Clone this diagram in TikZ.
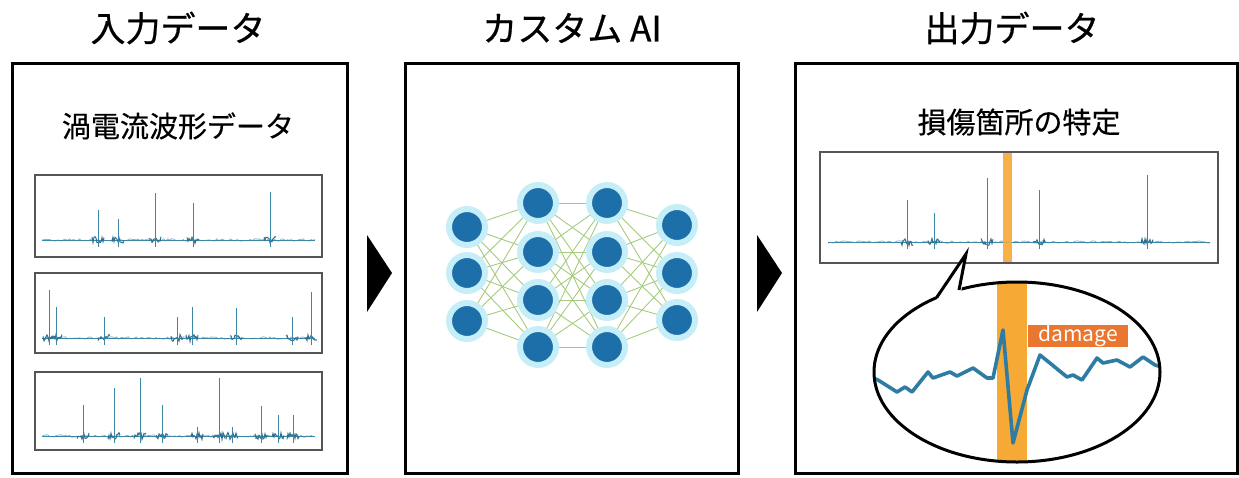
\documentclass[tikz,border=0pt]{standalone}
\usepackage{fontspec}
\setmainfont{Noto Sans CJK JP}
\newfontfamily\ttlfont[FakeBold=0.6]{Noto Sans CJK JP}
\newfontfamily\subfont[FakeBold=0.3]{Noto Sans CJK JP}
\usetikzlibrary{backgrounds,calc}
\definecolor{wavec}{HTML}{3C86A8}
\definecolor{wavel}{HTML}{86B8CC}
\definecolor{waved}{HTML}{2F6F8E}
\definecolor{wavebig}{HTML}{2E7CA4}
\definecolor{nnfill}{HTML}{1C6FA8}
\definecolor{nnglow}{HTML}{C6EEF8}
\definecolor{nnedge}{HTML}{A6CB7E}
\definecolor{barc}{HTML}{F6A934}
\definecolor{dmgc}{HTML}{E9772F}
\definecolor{boxc}{HTML}{555555}
\tikzset{
  panel/.style={draw=black, line width=3pt, minimum width=#1, minimum height=410pt, inner sep=0pt},
  ttl/.style={font=\ttlfont\fontsize{35}{38}\selectfont, inner sep=0pt},
  subttl/.style={font=\subfont\fontsize{29}{32}\selectfont, inner sep=0pt},
  wbox/.style={draw=boxc, line width=1.3pt, inner sep=0pt},
  neuron/.style={circle, fill=nnfill, draw=nnglow, line width=6pt, minimum size=36pt, inner sep=0pt},
  nnlink/.style={draw=nnedge, line width=0.9pt},
  basel/.style={draw=wavel, line width=0.8pt},
  spikel/.style={draw=wavec, line width=0.8pt},
  blobl/.style={draw=waved, line width=1pt},
  arrowtri/.style={fill=black},
}
\newcommand\wbase[3]{% x0, x1, base y
  \draw[basel] plot[variable=\t, domain=#1:#2, samples=140] (\t,{#3+1.2*rand});
  \draw[wavec, line width=0.5pt] (#1,#3) -- (#2,#3);
}
\newcommand\spk[3]{% base y, x, top y
  \draw[blobl] plot[variable=\t, domain=#2-6:#2+6, samples=13] (\t,{#1+3.5*rand});
  \draw[spikel] (#2,{#1+7}) -- (#2,#3);
}
\begin{document}
\begin{tikzpicture}[x=1pt,y=-1pt]
\pgfmathsetseed{11}
\useasboundingbox (0,0) rectangle (1239,477);

% titles
\node[ttl] (t1) at (178,28) {入力データ};
\node[ttl] (t2) at (572,28) {カスタム AI};
\node[ttl] (t3) at (1012,28) {出力データ};

% panels
\node[panel=335pt] (p1) at (179.5,268) {};
\node[panel=333pt] (p2) at (571.5,268) {};
\node[panel=442pt] (p3) at (1016,268) {};

% arrows
\fill[arrowtri] (367,235) -- (392,273) -- (367,312) -- cycle;
\fill[arrowtri] (757,235) -- (782,273) -- (757,312) -- cycle;

% left panel
\node[subttl] (s1) at (178,126) {渦電流波形データ};
\node[wbox, minimum width=287pt, minimum height=82pt] (w1) at (178.5,216) {};
\node[wbox, minimum width=287pt, minimum height=80pt] (w2) at (178.5,313) {};
\node[wbox, minimum width=287pt, minimum height=78pt] (w3) at (178.5,411) {};

\wbase{42}{315}{240}
\foreach \xx/\yy in {98/210,118/219,155/193,193/203,270/192}{\spk{240}{\xx}{\yy}}
\wbase{42}{315}{338}
\foreach \xx/\yy in {49/290,56/307,104/317,177/317,192/307,236/308,292/317,311/292}{\spk{338}{\xx}{\yy}}
\wbase{42}{315}{436}
\foreach \xx/\yy in {83/405,114/388,140/378,162/405,197/427,219/378,232/427,261/406,278/415,293/415}{\spk{436}{\xx}{\yy}}

% neural net
\node[neuron] (a1) at (467,227) {};
\node[neuron] (a2) at (467,273) {};
\node[neuron] (a3) at (467,321) {};
\node[neuron] (b1) at (538,203) {};
\node[neuron] (b2) at (538,252) {};
\node[neuron] (b3) at (538,300) {};
\node[neuron] (b4) at (538,347) {};
\node[neuron] (c1) at (607,203) {};
\node[neuron] (c2) at (607,252) {};
\node[neuron] (c3) at (607,300) {};
\node[neuron] (c4) at (607,347) {};
\node[neuron] (d1) at (677,225) {};
\node[neuron] (d2) at (677,273) {};
\node[neuron] (d3) at (677,320) {};
\begin{scope}[on background layer]
  \foreach \i in {1,2,3}{\foreach \j in {1,2,3,4}{\draw[nnlink] (a\i.center) -- (b\j.center);}}
  \foreach \i in {1,2,3,4}{\foreach \j in {1,2,3,4}{\draw[nnlink] (b\i.center) -- (c\j.center);}}
  \foreach \i in {1,2,3,4}{\foreach \j in {1,2,3}{\draw[nnlink] (c\i.center) -- (d\j.center);}}
\end{scope}

% right panel
\node[subttl] (s3) at (1019,122) {損傷箇所の特定};
\node[wbox, minimum width=398pt, minimum height=111pt] (w4) at (1019,207.5) {};
\wbase{828}{1210}{242}
\foreach \xx/\yy in {907/200,934/213,987/178,1039/190,1147/175}{\spk{242}{\xx}{\yy}}
\fill[barc, opacity=0.9] (1003,152.7) rectangle (1012,262.3);

% speech bubble
\coordinate (bc) at (1017,372);
\coordinate (ptip) at (966,254);
\coordinate (pl) at (937,297);
\coordinate (pr) at (959,290);
\fill[white] (bc) ellipse [x radius=143, y radius=90];
\begin{scope}
  \clip (bc) ellipse [x radius=143, y radius=90];
  \fill[barc] (997,270) rectangle (1027,470);
  \draw[wavebig, line width=3.6pt, line join=round] plot coordinates {(870,377) (878,380) (897,392) (905,387) (912,392) (928,372) (933,378) (950,372) (957,376) (973,368) (987,378) (993,378) (1003,330) (1013,443) (1027,390) (1040,355) (1067,377) (1073,375) (1082,380) (1097,358) (1103,363) (1117,360) (1130,367) (1143,357) (1155,365) (1165,368)};
\end{scope}
\draw[black, line width=3pt] (bc) ellipse [x radius=143, y radius=90];
\fill[white] ($(pl)+(-1,4)$) -- ($(pr)+(2,4)$) -- (ptip) -- cycle;
\draw[black, line width=3pt, line join=miter] (pl) -- (ptip) -- (pr);
\node[fill=dmgc, text=white, minimum width=100pt, minimum height=22pt, inner sep=0pt, font=\fontsize{21}{22}\selectfont] (dmg) at (1078,336) {damage};
\end{tikzpicture}
\end{document}
